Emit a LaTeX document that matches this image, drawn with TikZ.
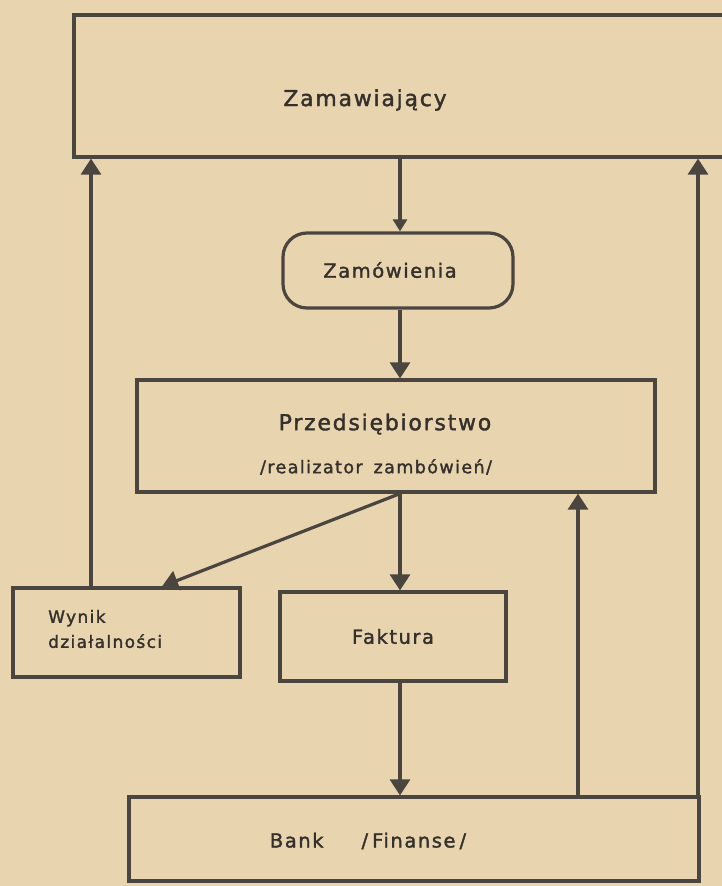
\documentclass[tikz,border=0pt]{standalone}
\usepackage{fontspec}
\setmainfont{DejaVu Sans}
\newfontfamily\hand[LetterSpace=8,FakeBold=1.6]{DejaVu Sans}
\usetikzlibrary{arrows.meta}
\definecolor{paper}{HTML}{E8D5B0}
\definecolor{ink}{HTML}{4A453F}
\definecolor{pen}{HTML}{35302B}

\begin{document}
\begin{tikzpicture}[x=1pt,y=-1pt,
  box/.style={draw=ink, line width=3.2pt, inner sep=0pt, rectangle},
  txt/.style={text=pen, inner sep=0pt},
  big/.style={font=\hand\fontsize{22}{26}\selectfont},
  mid/.style={font=\hand\fontsize{19.5}{24}\selectfont},
  sub/.style={font=\hand\fontsize{17.5}{22}\selectfont},
  small/.style={font=\hand\fontsize{17}{25}\selectfont},
  arr/.style={draw=ink, line width=3.2pt, -{Triangle[width=20pt,length=16pt]}},
  arrs/.style={draw=ink, line width=3.2pt, -{Triangle[width=14pt,length=12pt]}}]

  % sheet
  \clip (0,0) rectangle (722,886);
  \fill[paper] (0,0) rectangle (722,886);

  % column positions of the vertical connectors
  \coordinate (colL) at (91,0);
  \coordinate (colD) at (162,0);
  \coordinate (colC) at (400,0);
  \coordinate (colM) at (578,0);
  \coordinate (colR) at (698,0);

  % boxes
  \node[box, minimum width=670, minimum height=142] (zam) at (409,86) {};
  \node[txt, big] (zamT) at (365,100) {Zamawiający};

  \node[box, rounded corners=24pt, minimum width=230, minimum height=75] (zmw) at (398,270.5) {};
  \node[txt, mid] (zmwT) at (390,270) {Zamówienia};

  \node[box, minimum width=518, minimum height=112] (prz) at (396,436) {};
  \node[txt, big] (przT1) at (385,424) {Przedsiębiorstwo};
  \node[txt, sub] (przT2) at (376,467) {/realizator\hspace{4pt} zambówień/};

  \node[box, minimum width=227, minimum height=89] (wyn) at (126.5,632.5) {};
  \node[txt, small, anchor=west, align=left] (wynT) at (48,629) {Wynik\\działalności};

  \node[box, minimum width=226, minimum height=89, text=pen, mid] (fak) at (393,636.5) {Faktura};

  \node[box, minimum width=570, minimum height=84] (bnk) at (414,839) {};
  \node[txt, mid] (bnkT) at (368,841) {Bank\hspace{38pt}/\hspace{4pt}Finanse\hspace{4pt}/};

  % connectors
  \draw[arrs] (zam.south -| colC) -- (zmw.north -| colC);
  \draw[arr]  (zmw.south -| colC) -- (prz.north -| colC);
  \draw[arr]  (prz.south -| colC) -- (fak.north -| colC);
  \draw[arr]  (prz.south -| colC) -- (wyn.north -| colD);
  \draw[arr]  (fak.south -| colC) -- (bnk.north -| colC);
  \draw[arr]  (wyn.north -| colL) -- (zam.south -| colL);
  \draw[arr]  (bnk.north -| colM) -- (prz.south -| colM);
  \draw[arr]  (bnk.north -| colR) -- (zam.south -| colR);
\end{tikzpicture}
\end{document}
